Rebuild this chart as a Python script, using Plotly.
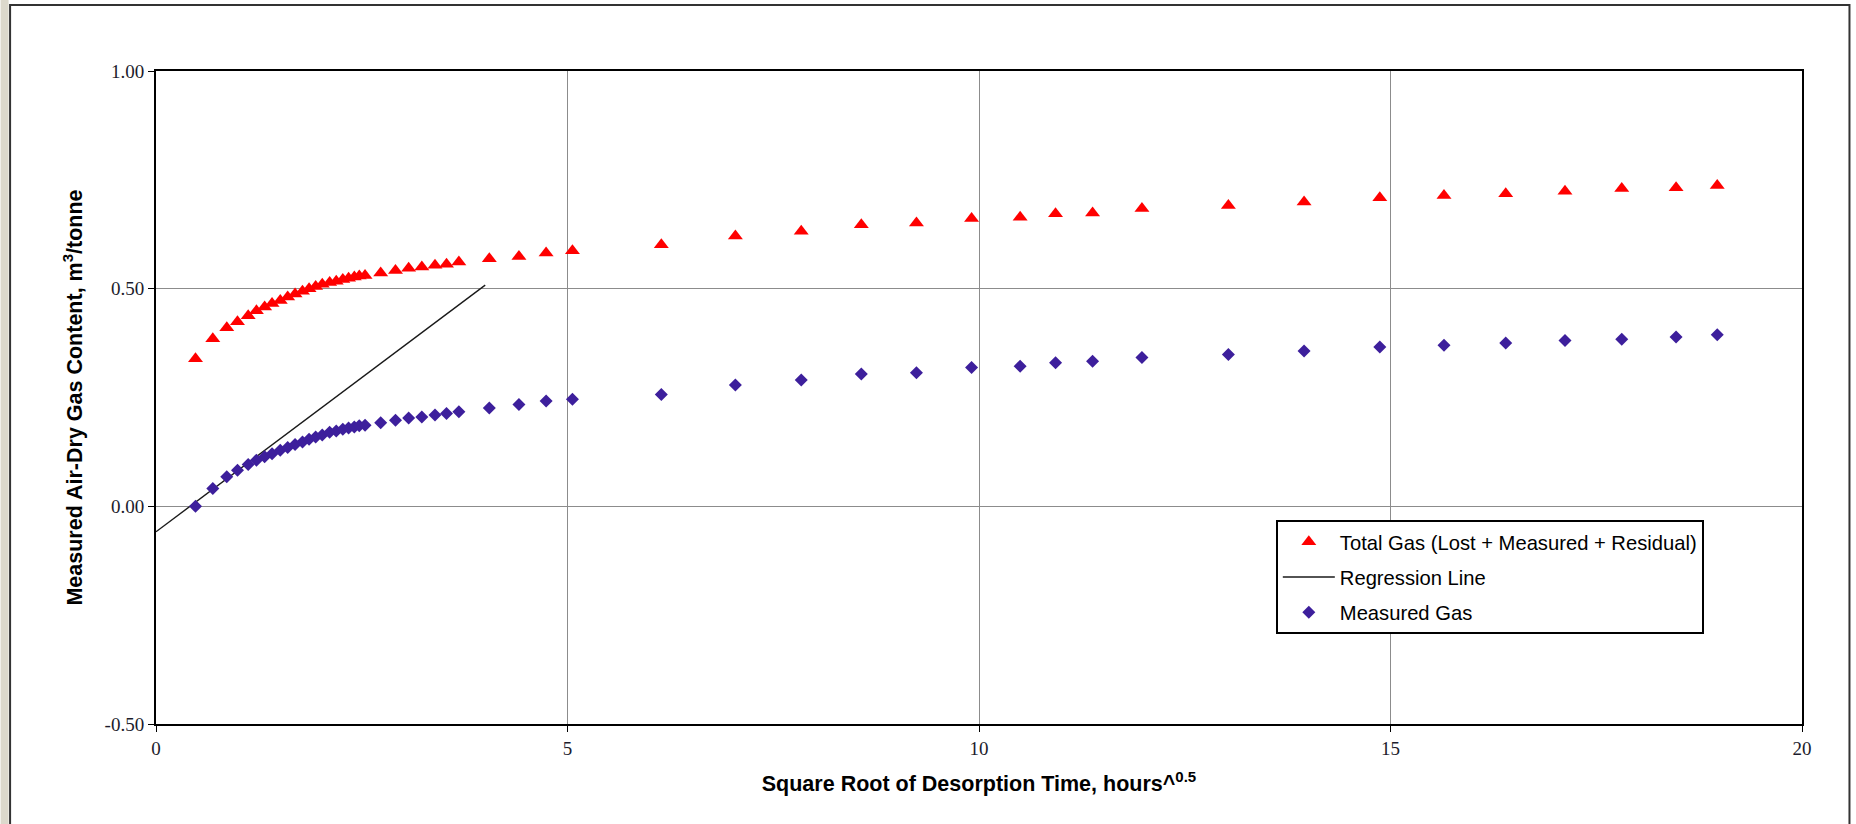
import plotly.graph_objects as go

# Square root of desorption time (hours^0.5)
sqrt_time = [0.48, 0.69, 0.86, 0.99, 1.12, 1.22, 1.32, 1.41, 1.51, 1.60, 1.69,
             1.78, 1.86, 1.94, 2.02, 2.11, 2.19, 2.27, 2.34, 2.41, 2.47, 2.54,
             2.73, 2.91, 3.07, 3.23, 3.39, 3.53, 3.68, 4.05, 4.41, 4.74, 5.06,
             6.14, 7.04, 7.84, 8.57, 9.24, 9.91, 10.50, 10.93, 11.38, 11.98,
             13.03, 13.95, 14.87, 15.65, 16.40, 17.12, 17.81, 18.47, 18.97]

total_gas = [0.339, 0.385, 0.410, 0.424, 0.438, 0.449, 0.458, 0.466, 0.473, 0.481, 0.488,
             0.494, 0.500, 0.505, 0.510, 0.514, 0.517, 0.521, 0.524, 0.527, 0.529, 0.530,
             0.536, 0.542, 0.547, 0.550, 0.554, 0.556, 0.561, 0.569, 0.574, 0.582, 0.587,
             0.601, 0.621, 0.632, 0.647, 0.651, 0.661, 0.664, 0.672, 0.674, 0.684,
             0.691, 0.699, 0.709, 0.714, 0.718, 0.724, 0.730, 0.732, 0.737]

measured_gas = [0.000, 0.041, 0.068, 0.083, 0.096, 0.106, 0.114, 0.121, 0.129, 0.135, 0.142,
                0.148, 0.154, 0.159, 0.164, 0.170, 0.173, 0.177, 0.180, 0.182, 0.185, 0.186,
                0.192, 0.198, 0.203, 0.205, 0.210, 0.213, 0.217, 0.226, 0.234, 0.242, 0.246,
                0.257, 0.279, 0.290, 0.304, 0.307, 0.319, 0.322, 0.330, 0.333, 0.342,
                0.349, 0.357, 0.366, 0.370, 0.375, 0.381, 0.384, 0.389, 0.394]

regression_x = [0.0, 4.0]
regression_y = [-0.0585, 0.508]

x_ticks = [0, 5, 10, 15, 20]
x_tick_labels = ["0", "5", "10", "15", "20"]
y_ticks = [-0.5, 0.0, 0.5, 1.0]
y_tick_labels = ["-0.50", "0.00", "0.50", "1.00"]

fig = go.Figure()
fig.add_trace(go.Scatter(
    x=sqrt_time, y=total_gas, mode="markers", legendgroup="a",
    name="Total Gas (Lost + Measured + Residual)",
    marker=dict(symbol="triangle-up", size=13, color="#ff0000", line=dict(width=0))))
fig.add_trace(go.Scatter(
    x=regression_x, y=regression_y, mode="lines", name="Regression Line", legendgroup="b",
    line=dict(color="#1a1a1a", width=1.4)))
fig.add_trace(go.Scatter(
    x=sqrt_time, y=measured_gas, mode="markers", name="Measured Gas", legendgroup="c",
    marker=dict(symbol="diamond", size=10, color="#3d1f9c", line=dict(width=0))))

W, H = 1856, 824
L, R, T, B = 155.5, 53.5, 70.5, 100

def px_x(px):
    return (px - L) / (W - L - R)

def px_y(py):
    return (H - B - py) / (H - T - B)

title_font = dict(family="Arial, Liberation Sans", size=21.5, color="#000000", weight="bold")
tick_font = dict(family="Liberation Serif, Times New Roman", size=19, color="#1c1c2c")

fig.update_layout(
    width=W, height=H,
    margin=dict(l=L, r=R, t=T, b=B, pad=0),
    paper_bgcolor="white", plot_bgcolor="white",
    showlegend=True,
    legend=dict(
        x=px_x(1276), y=px_y(520), xanchor="left", yanchor="top",
        bordercolor="#000000", borderwidth=2, bgcolor="white",
        font=dict(family="Arial, Liberation Sans", size=20.2, color="#000000"),
        itemwidth=52, tracegroupgap=6, traceorder="grouped"),
    xaxis=dict(
        range=[0, 20], tickvals=x_ticks, ticktext=x_tick_labels,
        showgrid=True, gridcolor="#8c8c8c", gridwidth=1,
        zeroline=False, showline=True, linecolor="#000000", linewidth=2, mirror=True,
        ticks="outside", ticklen=6, tickcolor="#000000", tickwidth=1,
        tickfont=tick_font,
        title=dict(text="Square Root of Desorption Time, hours^<sup>0.5</sup>",
                   font=title_font, standoff=18),
    ),
    yaxis=dict(
        range=[-0.5, 1.0], tickvals=y_ticks, ticktext=y_tick_labels,
        showgrid=True, gridcolor="#8c8c8c", gridwidth=1,
        zeroline=False, showline=True, linecolor="#000000", linewidth=2, mirror=True,
        ticks="outside", ticklen=6, tickcolor="#000000", tickwidth=1,
        tickfont=tick_font,
        title=dict(text="Measured Air-Dry Gas Content, m<sup>3</sup>/tonne",
                   font=title_font, standoff=16),
    ),
    shapes=[
        dict(type="rect", xref="paper", yref="paper",
             x0=px_x(0), x1=px_x(8), y0=px_y(830), y1=px_y(-5),
             fillcolor="#dcd9cc", line=dict(width=0), layer="below"),
        dict(type="rect", xref="paper", yref="paper",
             x0=px_x(9.5), x1=px_x(1850), y0=px_y(840), y1=px_y(4.5),
             fillcolor="rgba(0,0,0,0)", line=dict(color="#333333", width=2), layer="above"),
    ],
)

fig.write_html("out.html")
